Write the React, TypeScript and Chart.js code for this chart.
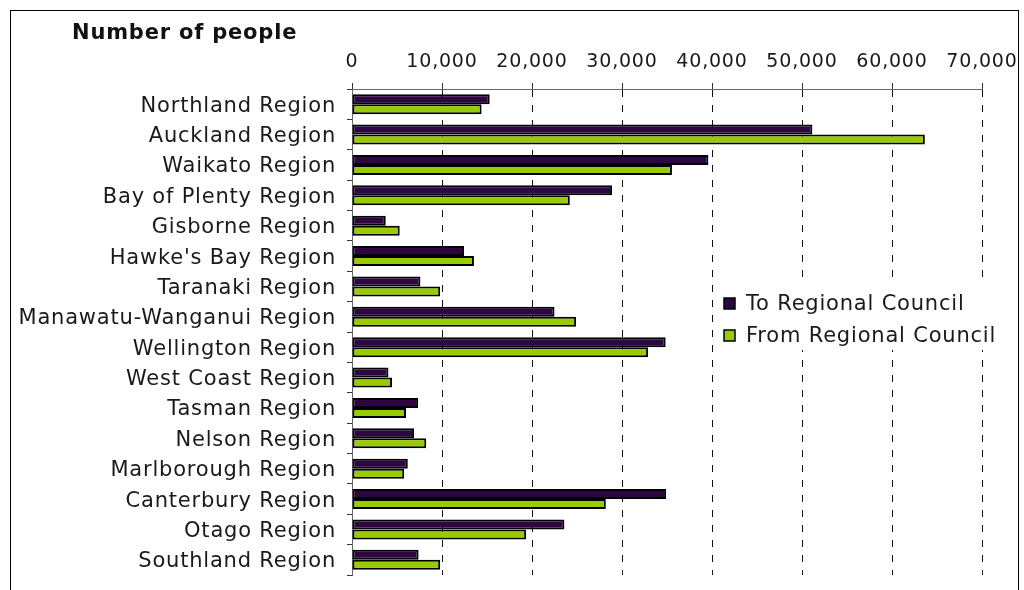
import React, { useEffect, useRef } from "react";
import { Chart, registerables } from "chart.js";

Chart.register(...registerables);

const categories = [
  "Northland Region",
  "Auckland Region",
  "Waikato Region",
  "Bay of Plenty Region",
  "Gisborne Region",
  "Hawke's Bay Region",
  "Taranaki Region",
  "Manawatu-Wanganui Region",
  "Wellington Region",
  "West Coast Region",
  "Tasman Region",
  "Nelson Region",
  "Marlborough Region",
  "Canterbury Region",
  "Otago Region",
  "Southland Region",
];

const toCouncil = [15300, 51150, 39600, 28900, 3750, 12450, 7600, 22500, 34850, 4050, 7350, 6900, 6200, 34900, 23600, 7400];
const fromCouncil = [14400, 63650, 35550, 24200, 5300, 13550, 9800, 24900, 32900, 4450, 6000, 8250, 5800, 28200, 19350, 9800];

const seriesLabels = ["To Regional Council", "From Regional Council"];
const seriesColors = ["#2E0742", "#99CC00"];
const xTicks = [0, 10000, 20000, 30000, 40000, 50000, 60000, 70000];
const axisTitle = "Number of people";

const FONT = '"DejaVu Sans", Verdana, sans-serif';
const SPACING = "0.8px";

const spacingPlugin = {
  id: "spacing",
  beforeUpdate(chart: any) {
    chart.ctx.letterSpacing = SPACING;
  },
  beforeDraw(chart: any) {
    chart.ctx.letterSpacing = SPACING;
  },
};

const overlayPlugin = {
  id: "overlay",
  afterDraw(chart: any) {
    const ctx = chart.ctx;
    const ca = chart.chartArea;
    ctx.save();
    ctx.letterSpacing = SPACING;
    // axis title
    ctx.fillStyle = "#111";
    ctx.font = `bold 21px ${FONT}`;
    ctx.textAlign = "left";
    ctx.textBaseline = "middle";
    ctx.fillText(axisTitle, ca.left - 280, ca.top - 55);
    // legend
    const lx = ca.right - 267;
    const ly = ca.top + 189;
    ctx.fillStyle = "#fff";
    ctx.fillRect(lx, ly, 292, 72);
    chart.data.datasets.forEach((ds: any, i: number) => {
      const by = ly + 20 + i * 32;
      ctx.fillStyle = ds.backgroundColor;
      ctx.fillRect(lx + 9, by, 11, 11);
      ctx.strokeStyle = "#000";
      ctx.lineWidth = 1.5;
      ctx.strokeRect(lx + 9, by, 11, 11);
      ctx.fillStyle = "#1a1a1a";
      ctx.font = `21px ${FONT}`;
      ctx.textAlign = "left";
      ctx.textBaseline = "middle";
      ctx.fillText(ds.label, lx + 31, by + 7);
    });
    ctx.restore();
  },
};

export default function App() {
  const canvasRef = useRef<HTMLCanvasElement | null>(null);

  useEffect(() => {
    const canvas = canvasRef.current;
    if (!canvas) return;
    const chart = new Chart(canvas, {
      type: "bar",
      data: {
        labels: categories,
        datasets: [
          {
            label: seriesLabels[0],
            data: toCouncil,
            backgroundColor: seriesColors[0],
            borderColor: "#000",
            borderWidth: 2,
            borderSkipped: false,
          },
          {
            label: seriesLabels[1],
            data: fromCouncil,
            backgroundColor: seriesColors[1],
            borderColor: "#000",
            borderWidth: 2,
            borderSkipped: false,
          },
        ],
      },
      options: {
        indexAxis: "y",
        responsive: false,
        animation: false,
        layout: { padding: { left: 0, right: 35, top: 0, bottom: 16 } },
        datasets: { bar: { categoryPercentage: 0.66, barPercentage: 1 } },
        plugins: {
          legend: { display: false },
          tooltip: { enabled: false },
          title: { display: false },
        },
        scales: {
          x: {
            position: "top",
            min: 0,
            max: 70000,
            afterBuildTicks: (s: any) => {
              s.ticks = xTicks.map((v) => ({ value: v }));
            },
            afterFit: (s: any) => {
              s.height = 78;
              s.paddingLeft = 0;
              s.paddingRight = 0;
            },
            ticks: {
              font: { family: FONT, size: 19 },
              color: "#1a1a1a",
              padding: 10,
              maxRotation: 0,
              autoSkip: false,
              callback: (v: any) => Number(v).toLocaleString("en-US"),
            },
            grid: {
              color: (c: any) => (c.tick && c.tick.value === 0 ? "rgba(0,0,0,0)" : "#111"),
              lineWidth: 1,
              tickColor: "#333",
              tickLength: 6,
            },
            border: { color: "#666", width: 1, dash: [7, 8] },
          },
          y: {
            afterFit: (s: any) => {
              s.width = 341;
              s.paddingTop = 0;
              s.paddingBottom = 0;
            },
            ticks: {
              font: { family: FONT, size: 21 },
              color: "#1a1a1a",
              padding: 11,
              labelOffset: 2,
              autoSkip: false,
            },
            grid: {
              drawOnChartArea: false,
              tickLength: 5,
              tickColor: "#333",
            },
            border: { color: "#666", width: 1 },
          },
        },
      },
      plugins: [spacingPlugin, overlayPlugin],
    } as any);
    return () => chart.destroy();
  }, []);

  return (
    <div style={{ position: "fixed", inset: 0, overflow: "hidden", background: "#fff" }}>
      <div
        style={{
          position: "absolute",
          left: 10,
          top: 10,
          width: 1007,
          height: 600,
          border: "1px solid #000",
          background: "#fff",
        }}
      >
        <canvas ref={canvasRef} width={1006} height={580} style={{ display: "block" }} />
      </div>
    </div>
  );
}
